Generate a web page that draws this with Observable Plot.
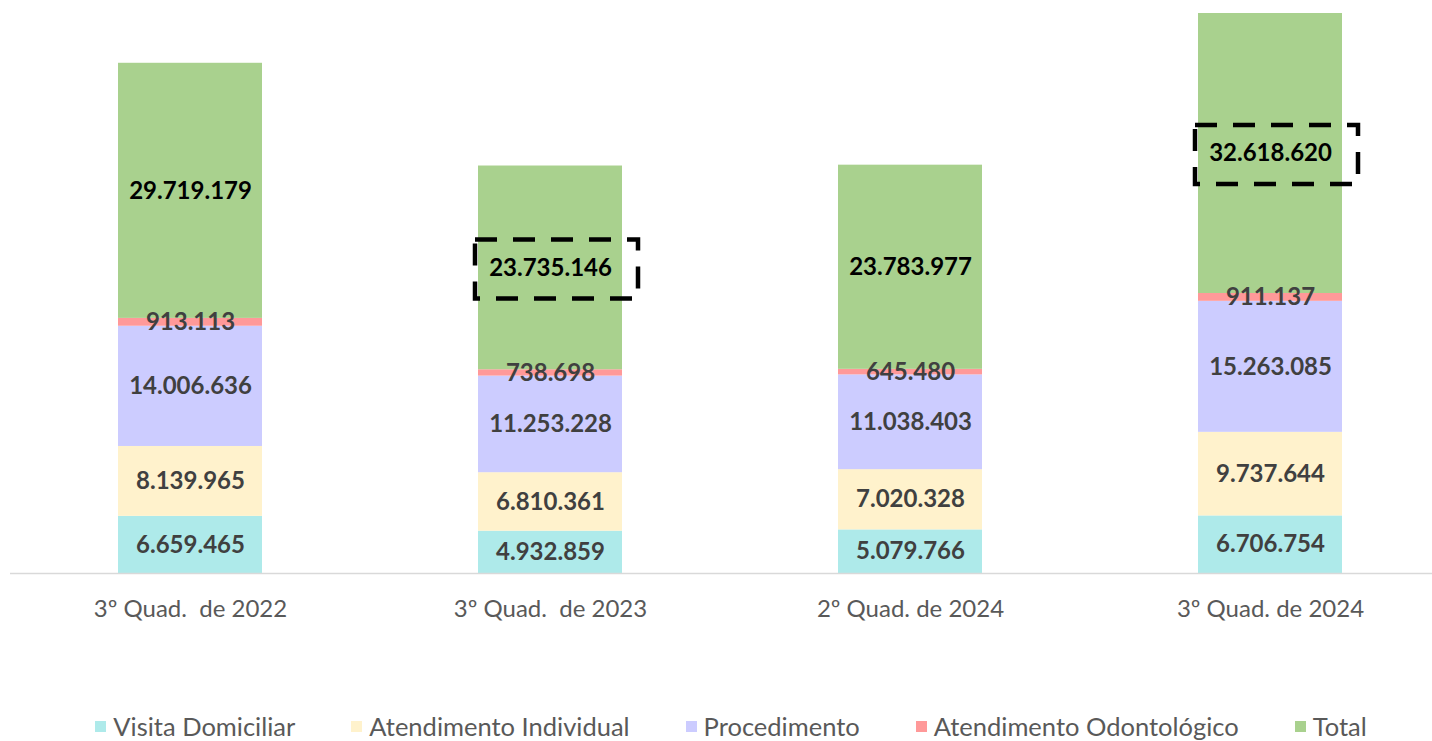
<!DOCTYPE html>
<html>
<head>
<meta charset="utf-8">
<script src="https://cdn.jsdelivr.net/npm/d3@7"></script>
<script src="https://cdn.jsdelivr.net/npm/@observablehq/plot@0.6"></script>
<style>
  html, body { margin: 0; padding: 0; background: #fff; }
  #chart { width: 1432px; }
  .legend { display: flex; justify-content: center; align-items: center; gap: 56px; margin-top: 52px; font-family: Lato, "Open Sans", sans-serif; font-size: 25.5px; color: #595959; margin-left: 30px; line-height: 28px;}
  .legend span.sw { display: inline-block; width: 11px; height: 11px; margin-right: 7px; }
  .legend div { display: flex; align-items: center; }
</style>
</head>
<body>
<div id="chart"></div>
<script>
const categories = ["3º Quad.\u00a0 de 2022", "3º Quad.\u00a0 de 2023", "2º Quad. de 2024", "3º Quad. de 2024"];
const seriesNames = ["Visita Domiciliar", "Atendimento Individual", "Procedimento", "Atendimento Odontológico", "Total"];
const colors = ["#AEEAEA", "#FFF2CC", "#CCCCFF", "#FF9999", "#A9D18E"];
const visitaDomiciliar = [6659465, 4932859, 5079766, 6706754];
const atendimentoIndividual = [8139965, 6810361, 7020328, 9737644];
const procedimento = [14006636, 11253228, 11038403, 15263085];
const atendimentoOdontologico = [913113, 738698, 645480, 911137];
const total = [29719179, 23735146, 23783977, 32618620];
const highlighted = ["3º Quad.\u00a0 de 2023", "3º Quad. de 2024"];

const seriesValues = [visitaDomiciliar, atendimentoIndividual, procedimento, atendimentoOdontologico, total];
const data = [];
seriesNames.forEach((s, si) => categories.forEach((c, ci) => data.push({cat: c, series: s, value: seriesValues[si][ci]})));

const fmt = d3.formatLocale({decimal: ",", thousands: ".", grouping: [3], currency: ["", ""]}).format(",");

const boxes = categories.map((c, i) => ({
  cat: c,
  mid: visitaDomiciliar[i] + atendimentoIndividual[i] + procedimento[i] + atendimentoOdontologico[i] + total[i] / 2
})).filter(d => highlighted.includes(d.cat));

const maxStack = d3.max(categories.map((c, i) => visitaDomiciliar[i] + atendimentoIndividual[i] + procedimento[i] + atendimentoOdontologico[i] + total[i]));

const chart = Plot.plot({
  width: 1432,
  height: 660,
  marginTop: 13,
  marginBottom: 87,
  marginLeft: 10,
  marginRight: 0,
  style: {fontFamily: "Lato, 'Open Sans', sans-serif", background: "#fff"},
  x: {domain: categories, range: [10, 1450], paddingInner: 0.6, paddingOuter: 0.3, label: null},
  y: {domain: [0, maxStack], axis: null, nice: false},
  color: {domain: seriesNames, range: colors},
  marks: [
    Plot.barY(data, {x: "cat", y: "value", fill: "series", order: null}),
    Plot.ruleY([0], {stroke: "#d9d9d9", strokeWidth: 1.5}),
    Plot.text(data, Plot.stackY({x: "cat", y: "value", z: "series", order: null,
      text: d => fmt(d.value),
      fill: d => d.series === "Total" ? "#000000" : "#404040",
      fontSize: 24, fontWeight: "bold"})),
    Plot.barY(boxes, {x: "cat", y1: "mid", y2: "mid", fill: "none", stroke: "#000", strokeWidth: 4.5,
      strokeDasharray: "22,16", insetLeft: -3, insetRight: -16, insetTop: -28, insetBottom: -31}),
    Plot.axisX({tickSize: 0, tickPadding: 26, fontSize: 24, color: "#595959", label: null})
  ]
});
chart.querySelectorAll("text").forEach(t => t.setAttribute("xml:space", "preserve"));
document.getElementById("chart").appendChild(chart);

const legend = document.createElement("div");
legend.className = "legend";
seriesNames.forEach((s, i) => {
  const item = document.createElement("div");
  const sw = document.createElement("span");
  sw.className = "sw";
  sw.style.background = colors[i];
  item.appendChild(sw);
  item.appendChild(document.createTextNode(s));
  legend.appendChild(item);
});
document.getElementById("chart").appendChild(legend);
</script>
</body>
</html>
